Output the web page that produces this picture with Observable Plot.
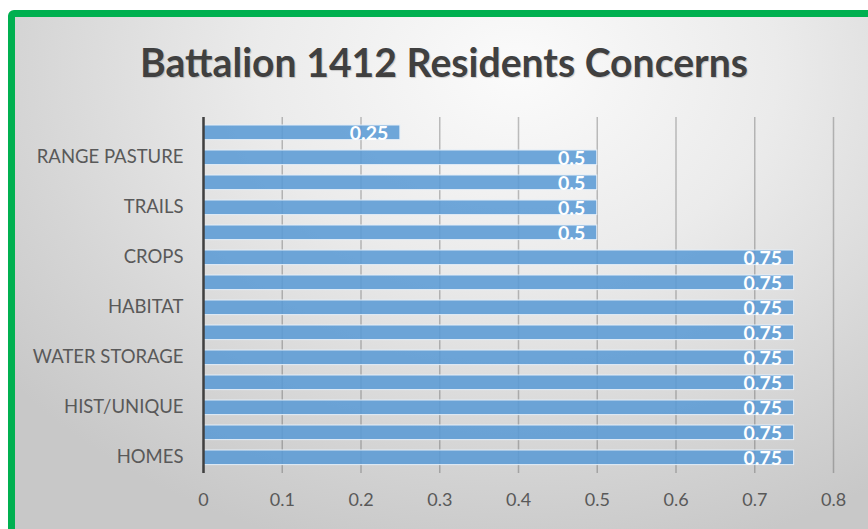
<!DOCTYPE html>
<html><head><meta charset="utf-8">
<script src="https://cdn.jsdelivr.net/npm/d3@7"></script>
<script src="https://cdn.jsdelivr.net/npm/@observablehq/plot@0.6"></script>
<style>
body{margin:0;width:868px;height:529px;overflow:hidden;background:#fff;font-family:Lato,sans-serif;position:relative;}
#frame{position:absolute;left:8px;top:10px;width:880px;height:540px;box-sizing:border-box;border:7px solid #00b050;border-radius:6px;
background:radial-gradient(ellipse 75% 95% at 58% 10%, #fbfbfb 0%, #ebebeb 40%, #d6d6d6 75%, #c8c8c8 100%);}
#title{position:absolute;left:0;top:0;}
#chart{position:absolute;left:0;top:100px;}
</style></head>
<body>
<div id="frame"></div>
<svg id="title" width="868" height="100"><text x="444" y="77" text-anchor="middle" textLength="608" lengthAdjust="spacingAndGlyphs" font-family="Lato" font-weight="bold" font-size="40" fill="#404040" style="text-shadow:1px 1px 1px rgba(0,0,0,0.18)">Battalion 1412 Residents Concerns</text></svg>
<div id="chart"></div>
<script>
const catLabels = ["", "RANGE PASTURE", "", "TRAILS", "", "CROPS", "", "HABITAT", "", "WATER STORAGE", "", "HIST/UNIQUE", "", "HOMES"];
const values = [0.25, 0.5, 0.5, 0.5, 0.5, 0.75, 0.75, 0.75, 0.75, 0.75, 0.75, 0.75, 0.75, 0.75];
const xTicks = [0, 0.1, 0.2, 0.3, 0.4, 0.5, 0.6, 0.7, 0.8];

const rows = values.map((v, i) => ({i, value: v, label: catLabels[i]}));

const chart = Plot.plot({
  width: 868,
  height: 429,
  marginLeft: 203,
  marginRight: 35,
  marginTop: 17,
  marginBottom: 56,
  style: {background: "transparent", fontFamily: "Lato, sans-serif", fontSize: "18px", color: "#595959"},
  x: {domain: [0, 0.8]},
  y: {domain: rows.map(d => d.i), padding: 0},
  marks: [
    Plot.gridX(xTicks, {stroke: "#4d4d4d", strokeOpacity: 0.35, strokeWidth: 1.5}),
    Plot.barX(rows, {x: "value", y: "i", insetTop: 5, insetBottom: 5.4, fill: "#5b9bd5", fillOpacity: 0.88, stroke: "#e4eef8", strokeWidth: 1}),
    Plot.ruleX([0], {stroke: "#404040", strokeWidth: 2.5}),
    Plot.text(rows, {x: "value", y: "i", text: d => String(d.value), textAnchor: "end", dx: -12, dy: 1, fill: "white", fontWeight: "bold", fontSize: 19.5}),
    Plot.axisX({ticks: xTicks, tickSize: 0, tickPadding: 20, tickFormat: d => String(d), label: null, fontSize: 18}),
    Plot.axisY({tickSize: 0, tickPadding: 20, tickFormat: i => catLabels[i], label: null, fontSize: 18.5, dy: -1})
  ]
});
document.getElementById("chart").appendChild(chart);
</script>
</body></html>
